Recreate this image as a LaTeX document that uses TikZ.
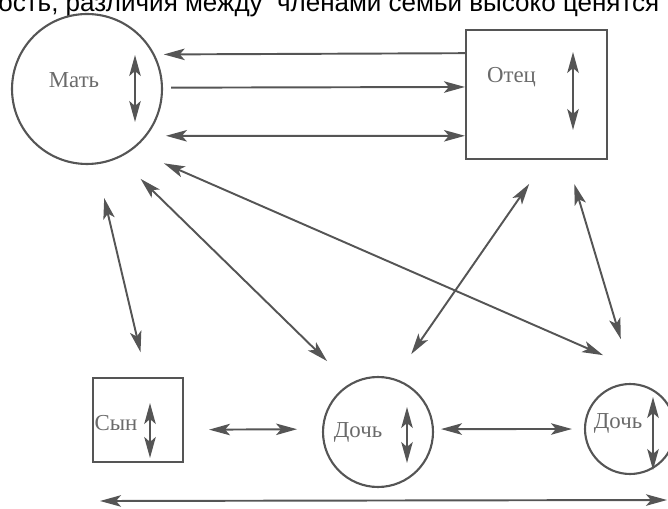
\documentclass[tikz,border=0pt]{standalone}
\usepackage{fontspec}
\setmainfont{Liberation Serif}
\newfontfamily\headfont{Liberation Sans}
\usetikzlibrary{arrows.meta}
\definecolor{ink}{HTML}{555555}
\definecolor{lblgray}{HTML}{6A6A6A}

\begin{document}
\begin{tikzpicture}[x=0.02cm, y=-0.02cm,
        >={Stealth[length=0.42cm, width=0.23cm, inset=0.1cm]},
        person/.style={draw=ink, line width=1.2pt, inner sep=0pt},
        oval/.style={person, circle},
        box/.style={person, rectangle},
        lbl/.style={font=\fontsize{13}{15}\selectfont, text=lblgray, inner sep=0pt},
        link/.style={draw=ink, line width=1.1pt}]

        \clip (0,0) rectangle (668,509);

        % cut line of the page above
        \node[font=\headfont\fontsize{14.8}{17}\selectfont, anchor=base west, inner sep=0pt] (head) at (-2,12) {ость, различия между\ \ членами семьи высоко ценятся};

        % family members
        \node[oval, minimum size=3cm] (mat) at (87,89) {};
        \node[box, minimum width=2.82cm, minimum height=2.58cm] (otec) at (536.5,94.5) {};
        \node[box, minimum width=1.8cm, minimum height=1.68cm] (syn) at (138,420) {};
        \node[oval, minimum size=2.2cm] (doch1) at (378,432) {};
        \node[oval, minimum size=1.8cm] (doch2) at (630,429) {};

        \node[lbl] (matT) at ([shift={(-13,-9)}]mat.center) {Мать};
        \node[lbl] (otecT) at ([shift={(-25,-17)}]otec.center) {Отец};
        \node[lbl] (synT) at ([shift={(-22,3)}]syn.center) {Сын};
        \node[lbl] (doch1T) at ([shift={(-20,0)}]doch1.center) {Дочь};
        \node[lbl] (doch2T) at ([shift={(-12,-6)}]doch2.center) {Дочь};

        % arrows inside each member
        \foreach \n/\dx/\ya/\yb in {mat/48/-34/33, otec/36.5/-42.5/35.5, syn/12/-17/38, doch1/29/-25/31, doch2/23/-32/41}
            \draw[link, <->] ([shift={(\dx,\ya)}]\n.center) -- ([shift={(\dx,\yb)}]\n.center);

        % parents
        \draw[link, ->, shorten >=0.18cm] (otec.150.7) -- (mat.27);
        \draw[link, ->, shorten <=0.16cm] (mat.1) -- (otec.174.3);
        \draw[link, <->, shorten <=0.38cm] (mat.-38.3) -- (otec.210.2);

        % mother -- children
        \draw[link, <->, shorten <=0.69cm, shorten >=0.51cm] (mat.-83.8) -- (syn.79.35);
        \draw[link, <->, shorten <=0.6cm, shorten >=0.64cm] (mat.-65.05) -- (doch1.120.6);
        \draw[link, <->, shorten <=0.68cm, shorten >=1.09cm] (mat.-53.5) -- ([shift={(23,-52)}]doch2.center);

        % father -- daughters
        \draw[link, <->, shorten <=0.58cm, shorten >=0.59cm] (otec.-82.9) -- (doch1.73.7);
        \draw[link, <->, shorten <=0.5cm, shorten >=0.92cm] (otec.-65.6) -- (doch2.85.9);

        % children
        \draw[link, <->, shorten <=0.5cm, shorten >=0.5cm] (syn.-12.5) -- (doch1.177.9);
        \draw[link, <->, shorten <=0.14cm, shorten >=0.24cm] (doch1.3.1) -- (doch2.180);

        % whole family
        \coordinate (famL) at (100,501);
        \coordinate (famR) at (667,500);
        \draw[link, <->] (famL) -- (famR);

    \end{tikzpicture}
\end{document}
